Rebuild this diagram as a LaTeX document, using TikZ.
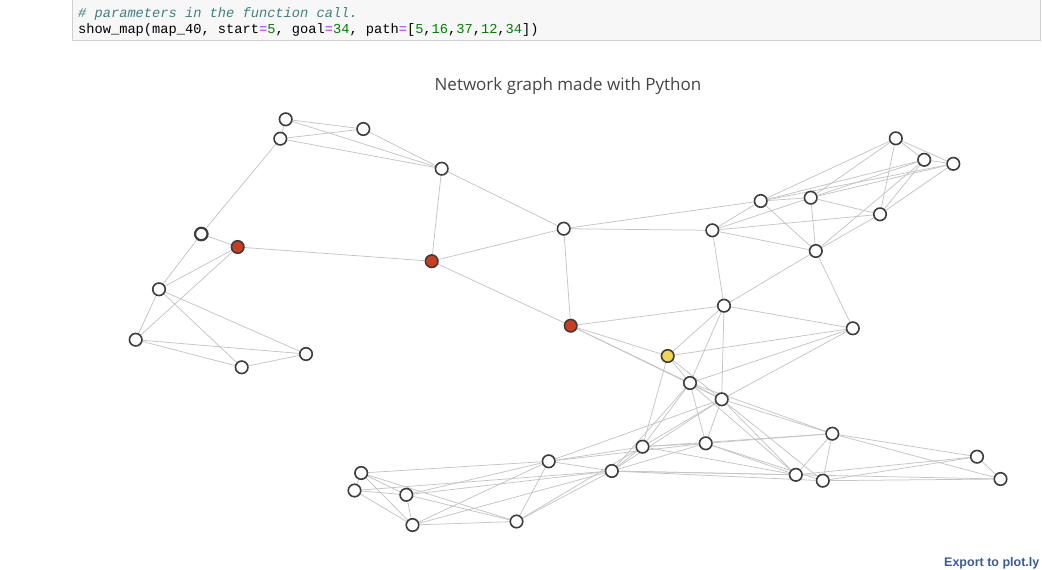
\documentclass[tikz,border=0pt]{standalone}
\usepackage{fontspec}
\setmainfont{Open Sans}
\newfontfamily\codefont{Liberation Mono}
\newfontfamily\linkfont{Liberation Sans}
\definecolor{edgegray}{RGB}{196,196,196}
\definecolor{ringgray}{RGB}{60,60,60}
\definecolor{pathred}{RGB}{204,60,32}
\definecolor{goalyellow}{RGB}{242,212,80}
\definecolor{cellbg}{RGB}{247,247,247}
\definecolor{cellborder}{RGB}{207,207,207}
\definecolor{cmtcol}{RGB}{64,128,128}
\definecolor{opcol}{RGB}{170,34,255}
\definecolor{numcol}{RGB}{0,128,0}
\definecolor{titlecol}{RGB}{68,68,68}
\definecolor{linkcol}{RGB}{60,90,150}
\pgfdeclarelayer{background}
\pgfsetlayers{background,main}
\tikzset{
  vtx/.style={circle, draw=ringgray, line width=1.6pt, fill=white, minimum size=12.5pt, inner sep=0pt},
  pathvtx/.style={vtx, fill=pathred},
  goalvtx/.style={vtx, fill=goalyellow},
  startvtx/.style={vtx, line width=2.2pt},
  edge/.style={draw=edgegray, line width=0.75pt},
  codeline/.style={anchor=base west, inner sep=0pt, font=\codefont\fontsize{13.7}{16}\selectfont},
}
\newcommand{\op}[1]{\textcolor{opcol}{#1}}
\newcommand{\num}[1]{\textcolor{numcol}{#1}}
\begin{document}
\begin{tikzpicture}[x=1pt,y=-1pt]
\useasboundingbox (0,0) rectangle (1042,570);

% code cell
\draw[cellborder, fill=cellbg, line width=0.8pt] (72,-3) rectangle (1040,40);
\node[codeline, text=cmtcol] (cmt) at (78,17) {\itshape \# parameters in the function call.};
\node[codeline] (code) at (78,34) {show\_map(map\_40, start\op{=}\num{5}, goal\op{=}\num{34}, path\op{=}[\num{5},\num{16},\num{37},\num{12},\num{34}])};

% title
\node[text=titlecol, font=\fontsize{17}{20}\selectfont] (title) at (568,86) {Network graph made with Python};

% vertices
\foreach \i/\x/\y in {
  1/285.7/119.3, 2/363.3/129, 3/280.3/138.7, 4/441.7/168.7,
  8/159/289.3, 9/135.7/339.7, 10/241.7/367.3, 11/306/354,
  12/563.7/228.7, 15/712.3/230.3, 16/760.7/201, 17/810.7/197.7,
  18/880/214.3, 19/895.8/138.3, 20/924.2/159.8, 21/953.3/163.8,
  22/815.8/251, 23/724/305.7, 24/852.8/328.3, 25/690/383,
  26/721.7/399.3, 27/642.5/446.7, 28/705.7/443.3, 29/832.3/433.7,
  30/977/456.7, 31/1000.5/479, 32/795.8/474.8, 33/822.8/480.7,
  34/611.8/471, 35/548.7/461.3, 36/361.2/473, 37/354.5/490.5,
  38/406.3/494.8, 39/412.5/525, 40/516.5/521.5}
  \node[vtx] (n\i) at (\x,\y) {};
\node[startvtx] (n5) at (201.3,234) {};
\node[pathvtx] (n6) at (237.7,247) {};
\node[pathvtx] (n7) at (431.7,261.2) {};
\node[pathvtx] (n13) at (570.7,325.7) {};
\node[goalvtx] (n14) at (667.7,356) {};

% connections, kept beneath the vertices
\begin{pgfonlayer}{background}
\foreach \a/\b in {
  1/2, 1/3, 1/4, 2/3, 2/4, 3/4, 3/5,
  5/6, 5/8, 6/7, 6/8, 6/9, 8/9, 8/10, 8/11, 9/10, 9/11, 10/11,
  4/7, 4/12, 7/12, 7/13, 12/13, 12/15, 12/16,
  13/14, 13/23, 13/25, 13/26,
  15/16, 15/17, 15/18, 15/22, 15/23,
  16/17, 16/19, 16/20, 16/21, 16/22,
  17/18, 17/19, 17/20, 17/21, 17/22,
  18/19, 18/20, 18/21, 18/22,
  19/20, 19/21, 20/21, 20/22,
  22/23, 22/24, 23/24,
  14/23, 14/24, 14/25, 14/26, 14/27,
  23/25, 23/26, 24/25, 24/26,
  25/26, 25/27, 25/28, 25/29, 25/32, 25/34,
  26/27, 26/28, 26/29, 26/32, 26/33, 26/34, 26/35,
  27/28, 27/32, 27/34, 27/35, 27/29,
  28/29, 28/32, 28/33, 28/34, 28/35,
  29/32, 29/33, 29/30, 29/31,
  30/31, 32/30, 33/30, 34/31, 33/31,
  34/32, 34/33, 34/35,
  35/36, 35/38, 35/39, 35/40,
  36/37, 36/38, 36/39, 36/40,
  37/38, 37/39, 37/34,
  38/39, 38/40, 38/34,
  39/40, 39/34,
  40/34, 40/27}
  \draw[edge] (n\a) -- (n\b);
\end{pgfonlayer}

% export link
\node[anchor=base west, inner sep=0pt, text=linkcol, font=\linkfont\bfseries\fontsize{12.5}{14}\selectfont] (export) at (944,566) {Export to plot.ly};
\end{tikzpicture}
\end{document}
